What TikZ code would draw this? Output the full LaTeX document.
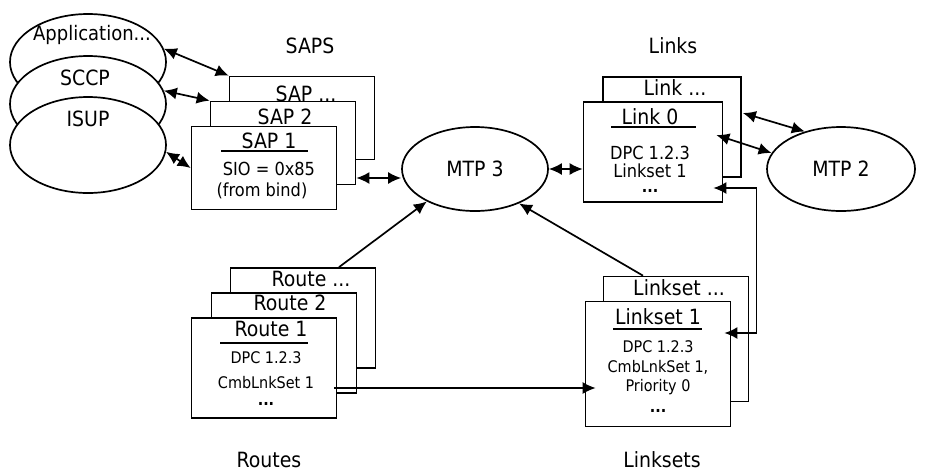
\documentclass[tikz,border=0pt]{standalone}
\usepackage{fontspec}
\setmainfont{DejaVu Sans Condensed}
\usetikzlibrary{arrows.meta,shapes.geometric}

\begin{document}
\begin{tikzpicture}[x=0.5pt,y=-0.5pt]
\tikzset{layer/.style = {shape=ellipse,draw,fill=white,line width=0.85pt,
minimum width=78pt,minimum height=48pt}}
\tikzset{card/.style = {shape=rectangle,draw,fill=white,line width=0.85pt,
minimum width=72.5pt,minimum height=41.5pt}}
\tikzset{edge/.style = {-{Latex[length=6.5pt,width=6pt]},line width=0.85pt}}
\tikzset{biedge/.style = {{Latex[length=6.5pt,width=6pt]}-{Latex[length=6.5pt,width=6pt]},line width=0.85pt}}
\tikzset{rule/.style = {line width=0.85pt}}
\tikzset{big/.style = {font=\fontsize{10.5}{12}\selectfont,inner sep=0pt}}
\tikzset{mid/.style = {font=\fontsize{9}{11}\selectfont,inner sep=0pt}}
\tikzset{small/.style = {font=\fontsize{8}{10}\selectfont,inner sep=0pt}}
\fill[white] (0,0) rectangle (929,472);
\useasboundingbox (0,0) rectangle (929,472);

% layers
\node[layer] (app) at (88,62) {};
\node[big,font=\fontsize{10}{12}\selectfont] (appt) at (92,35) {Application...};
\node[layer] (sccp) at (88,104) {};
\node[big] (sccpt) at (85,78) {SCCP};
\node[layer] (isup) at (88,145) {};
\node[big] (isupt) at (88,119) {ISUP};
\node[layer,big,minimum width=73pt,minimum height=42pt] (mtp3) at (475,169) {MTP 3};
\node[layer,big,minimum width=74pt,minimum height=42pt] (mtp2) at (841,169) {MTP 2};

% saps
\node[big] (saps) at (310,46) {SAPS};
\node[card] (sapn) at (302,118) {};
\node[big] (sapnt) at (306,94) {SAP ...};
\node[card] (sap2) at (283,143) {};
\node[big] (sap2t) at (285,117) {SAP 2};
\node[card] (sap1) at (264,168) {};
\node[big] (sap1t) at (269,141) {SAP 1};
\draw[rule] (221,151) -- (308,151);
\node[mid] (sio) at (269,169) {SIO = 0x85};
\node[mid] (bind) at (262,191) {(from bind)};

% links
\node[big] (links) at (673,46) {Links};
\node[card,minimum width=69pt,minimum height=50pt] (linkn) at (672,127) {};
\node[big] (linknt) at (675,88) {Link ...};
\node[card,minimum width=69.5pt,minimum height=50pt] (link0) at (653,152) {};
\node[big] (link0t) at (650,117) {Link 0};
\draw[rule] (611,127) -- (696,127);
\node[mid] (dpc0) at (650,153) {DPC 1.2.3};
\node[mid] (lset0) at (650,171) {Linkset 1};
\node[small] (more0) at (650,191) {\bfseries ...};

% linksets
\node[big] (linksets) at (662,460) {Linksets};
\node[card,minimum height=62.5pt] (lsetn) at (676,339) {};
\node[big] (lsetnt) at (679,288) {Linkset ...};
\node[card,minimum height=62.5pt] (lset1) at (658,364) {};
\node[big] (lset1t) at (658,317) {Linkset 1};
\draw[rule] (613,329) -- (702,329);
\node[small] (dpc1) at (658,347) {DPC 1.2.3};
\node[small] (cmb1) at (658,367) {CmbLnkSet 1,};
\node[small] (prio1) at (658,387) {Priority 0};
\node[small] (more1) at (658,411) {\bfseries ...};

% routes
\node[big] (routes) at (269,460) {Routes};
\node[card,minimum height=50pt] (routen) at (303,318) {};
\node[big] (routent) at (311,279) {Route ...};
\node[card,minimum height=50pt] (route2) at (284,343) {};
\node[big] (route2t) at (290,303) {Route 2};
\node[card,minimum height=50pt] (route1) at (264,368) {};
\node[big] (route1t) at (271,329) {Route 1};
\draw[rule] (220,343) -- (308,343);
\node[small] (dpc2) at (266,358) {DPC 1.2.3};
\node[small] (cmb2) at (266,383) {CmbLnkSet 1};
\node[small] (more2) at (266,404) {\bfseries ...};

%edges
\draw[biedge] (app.10) -- (sapn.north west);
\draw[biedge] (sccp.10) -- (sap2.north west);
\draw[biedge] (isup.-5) -- (sap1.west);
\draw[biedge] ([yshift=-17.5pt]sap2.east) -- ([yshift=-4.5pt]mtp3.west);
\draw[biedge] (mtp3.east) -- (mtp3.east -| link0.west);
\draw[biedge] ([shift={(0.5pt,7pt)}]linkn.east) -- (mtp2.134);
\draw[biedge] ([shift={(-3.5pt,8.5pt)}]link0.east) -- (mtp2.167);
\coordinate (lsin) at ([shift={(-3.5pt,15.5pt)}]lset1.east);
\coordinate (lkin) at ([shift={(-5pt,-18pt)}]link0.east);
\draw[biedge] (lsin) -- ++(32,0) |- (lkin);
\coordinate (rout) at ([shift={(-1.5pt,-10pt)}]route1.east);
\draw[edge,shorten >=-5.5pt] (rout) -- (rout -| lset1.west);
\draw[edge] ([xshift=18pt]routen.north) -- (mtp3.214);
\draw[edge] ([xshift=-16.5pt]lsetn.north) -- (mtp3.-38);
\end{tikzpicture}
\end{document}
